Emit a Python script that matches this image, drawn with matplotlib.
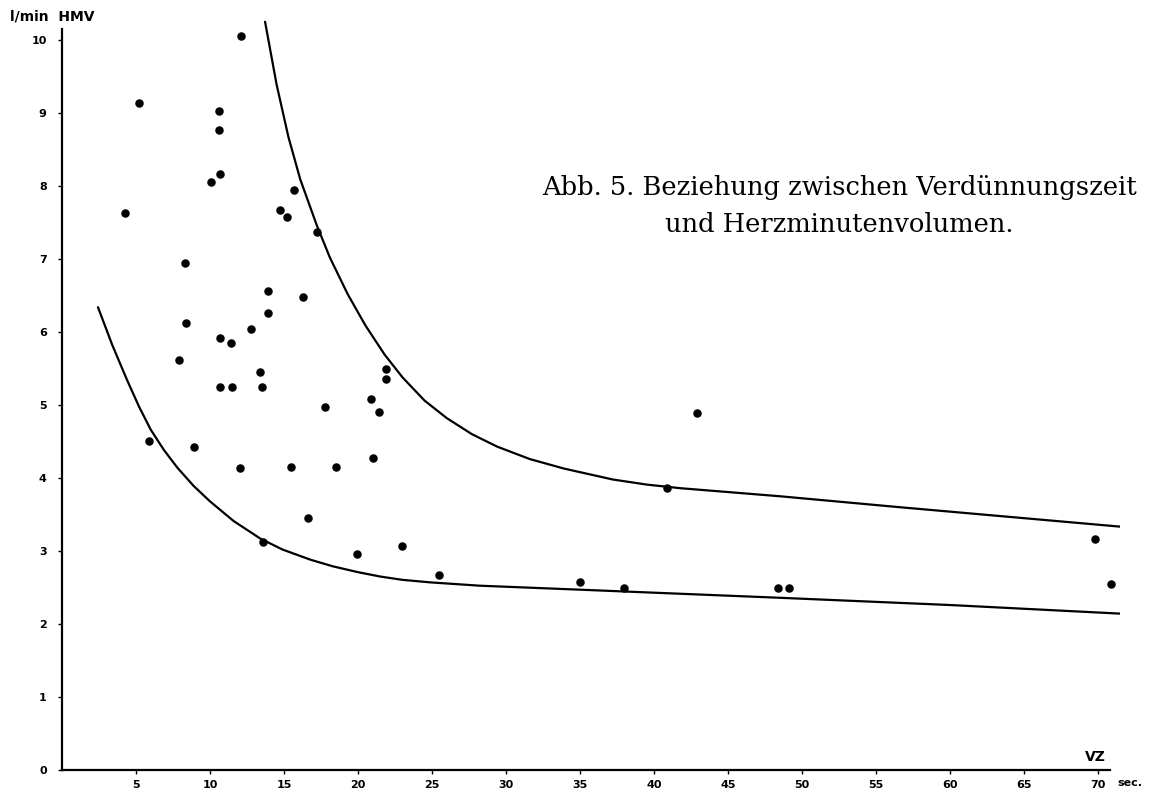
import matplotlib
matplotlib.use("Agg")
import matplotlib.pyplot as plt

# measured points (VZ in sec, HMV in l/min)
vz = [4.26, 5.2, 12.1, 10.6, 10.6, 10.1, 10.7, 15.7, 14.7, 15.2, 17.2,
      8.3, 13.9, 16.3, 13.9, 8.4, 12.8, 10.7, 11.4, 7.9, 13.4, 21.9, 21.9,
      10.7, 11.5, 13.5, 20.9, 17.8, 21.4, 5.9, 8.9, 21.0, 12.0, 15.5, 18.5,
      16.6, 13.6, 23.0, 19.9, 25.5, 35.0, 38.0, 48.4, 49.1, 70.9, 42.9,
      40.9, 69.8]
hmv = [7.63, 9.14, 10.05, 9.03, 8.77, 8.05, 8.16, 7.95, 7.67, 7.58, 7.37,
       6.95, 6.56, 6.48, 6.26, 6.13, 6.04, 5.92, 5.85, 5.61, 5.45, 5.49, 5.36,
       5.25, 5.25, 5.25, 5.08, 4.97, 4.90, 4.51, 4.42, 4.27, 4.14, 4.15, 4.15,
       3.45, 3.12, 3.07, 2.96, 2.67, 2.58, 2.50, 2.50, 2.50, 2.55, 4.89,
       3.86, 3.16]

# hand-drawn envelope curves
upper_x = [13.72, 14.5, 15.3, 16.1, 17.2, 18.1, 19.3, 20.5, 21.8, 23.0,
           24.5, 26.0, 27.7, 29.4, 31.6, 33.9, 37.2, 39.5, 41.8, 48.5, 56.6,
           71.7]
upper_y = [10.25, 9.39, 8.67, 8.09, 7.47, 7.02, 6.52, 6.09, 5.69, 5.38,
           5.06, 4.82, 4.60, 4.43, 4.26, 4.13, 3.98, 3.91, 3.86, 3.75, 3.60,
           3.33]
lower_x = [2.43, 3.4, 4.4, 5.2, 6.0, 6.9, 7.8, 8.9, 10.0, 11.6, 13.4, 14.9,
           16.8, 18.3, 20.0, 21.5, 23.0, 24.9, 28.2, 35.0, 48.4, 60.0, 71.7]
lower_y = [6.34, 5.82, 5.34, 4.98, 4.66, 4.38, 4.14, 3.89, 3.68, 3.41, 3.17,
           3.02, 2.88, 2.79, 2.71, 2.65, 2.605, 2.57, 2.525, 2.47, 2.36, 2.26,
           2.14]

xticks = list(range(5, 75, 5))
yticks = list(range(0, 11))

W, H = 1151, 789
fig = plt.figure(figsize=(W / 100, H / 100), dpi=100)
# x=0 -> 62px at 14.8 px/sec ; y=0 -> 770px at 73 px/unit
x0, x1 = 0, 71.5
y0, y1 = 0, 10.4
ax = fig.add_axes([62 / W, 1 - 770 / H, 14.8 * (x1 - x0) / W, 73 * (y1 - y0) / H])
ax.set_xlim(x0, x1)
ax.set_ylim(y0, y1)

ax.plot(upper_x, upper_y, color="black", lw=1.6, solid_capstyle="round",
        solid_joinstyle="round")
ax.plot(lower_x, lower_y, color="black", lw=1.6, solid_capstyle="round",
        solid_joinstyle="round")
ax.scatter(vz, hmv, s=26, color="black", zorder=3)

for s in ["top", "right"]:
    ax.spines[s].set_visible(False)
ax.spines["left"].set_bounds(0, 10.15)
ax.spines["bottom"].set_bounds(0, 70.8)
ax.spines["left"].set_linewidth(1.6)
ax.spines["bottom"].set_linewidth(1.6)

ax.set_xticks(xticks)
ax.set_xticklabels([str(t) for t in xticks], fontsize=8, fontweight="bold")
ax.set_yticks(yticks)
ax.set_yticklabels([str(t) for t in yticks], fontsize=8, fontweight="bold")
ax.tick_params(axis="both", length=3, width=1, pad=4)
ax.tick_params(axis="y", pad=8)

fig.text(10 / W, 1 - 16 / H, "l/min  HMV", fontsize=10, fontweight="bold",
         va="center", ha="left")
ax.text(69.8, 0.08, "VZ", fontsize=10, fontweight="bold", ha="center",
        va="bottom")
fig.text(1117 / W, 1 - 783 / H, "sec.", fontsize=8, fontweight="bold",
         va="center", ha="left")

# caption
fig.text(839 / W, 1 - 188 / H, "Abb. 5. Beziehung zwischen Verdünnungszeit",
         fontsize=18.5, family="DejaVu Serif", ha="center", va="center")
fig.text(839 / W, 1 - 225 / H, "und Herzminutenvolumen.",
         fontsize=18.5, family="DejaVu Serif", ha="center", va="center")

fig.savefig("out.png", dpi=100)
